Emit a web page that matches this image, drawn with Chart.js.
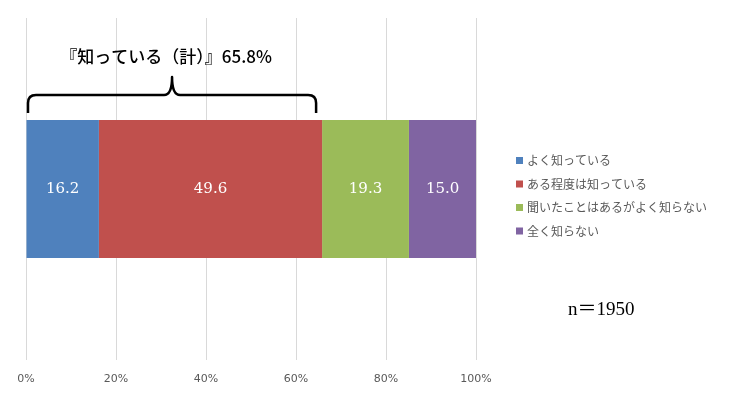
<!DOCTYPE html>
<html>
<head>
<meta charset="utf-8">
<script src="https://cdn.jsdelivr.net/npm/chart.js@4"></script>
<style>
  html, body { margin: 0; padding: 0; background: #fff; }
  #wrap { width: 740px; height: 395px; position: relative; }
</style>
</head>
<body>
<div id="wrap"><canvas id="chart"></canvas></div>
<script>
// data
const categories = [''];
const seriesNames = ['よく知っている', 'ある程度は知っている', '聞いたことはあるがよく知らない', '全く知らない'];
const seriesValues = [16.2, 49.6, 19.3, 15.0];
const seriesColors = ['#4f81bd', '#c0504d', '#9bbb59', '#8064a2'];
const xTicks = [0, 20, 40, 60, 80, 100];
const braceTotal = 65.8;
const braceLabel = '『知っている（計）』65.8%';
const sampleNote = 'n＝1950';

const jpFont = '"Noto Sans CJK JP", "Noto Sans", sans-serif';

// values inside the bars
const barLabels = {
    id: 'barLabels',
    afterDatasetsDraw(chart) {
        const ctx = chart.ctx;
        ctx.save();
        ctx.fillStyle = '#fff';
        ctx.font = '15px "DejaVu Serif", "Liberation Serif", serif';
        ctx.textAlign = 'center';
        ctx.textBaseline = 'middle';
        chart.data.datasets.forEach((ds, i) => {
            chart.getDatasetMeta(i).data.forEach((bar, j) => {
                const cx = (bar.x + bar.base) / 2;
                ctx.fillText(ds.data[j].toFixed(1), cx, bar.y);
            });
        });
        ctx.restore();
    }
};

// curly brace over the "know" share plus its caption
const brace = {
    id: 'brace',
    afterDraw(chart) {
        const x = chart.scales.x;
        const ctx = chart.ctx;
        const l = x.getPixelForValue(0) + 2;
        const r = x.getPixelForValue(braceTotal) - 6;
        const m = (l + r) / 2;
        const yEnd = 113, yMid = 95, yTop = 77, rad = 8;
        ctx.save();
        ctx.strokeStyle = '#000';
        ctx.lineWidth = 2.5;
        ctx.lineJoin = 'round';
        ctx.beginPath();
        ctx.moveTo(l, yEnd);
        ctx.lineTo(l, yMid + rad);
        ctx.quadraticCurveTo(l, yMid, l + rad, yMid);
        ctx.lineTo(m - rad, yMid);
        ctx.quadraticCurveTo(m, yMid, m, yTop);
        ctx.quadraticCurveTo(m, yMid, m + rad, yMid);
        ctx.lineTo(r - rad, yMid);
        ctx.quadraticCurveTo(r, yMid, r, yMid + rad);
        ctx.lineTo(r, yEnd);
        ctx.stroke();

        ctx.fillStyle = '#000';
        ctx.font = '500 17px ' + jpFont;
        ctx.textAlign = 'center';
        ctx.textBaseline = 'middle';
        ctx.fillText(braceLabel, m - 6, 57);

        ctx.font = '19px "Liberation Serif", "Noto Sans CJK JP", serif';
        ctx.textAlign = 'left';
        ctx.fillText(sampleNote, 568, 310);
        ctx.restore();
    }
};

// legend on the right, drawn by hand to sit where the reference has it
const sideLegend = {
    id: 'sideLegend',
    afterDraw(chart) {
        const ctx = chart.ctx;
        ctx.save();
        ctx.font = '12px ' + jpFont;
        ctx.textBaseline = 'middle';
        ctx.textAlign = 'left';
        chart.data.datasets.forEach((ds, i) => {
            const y = 160.5 + i * 23.5;
            ctx.fillStyle = ds.backgroundColor;
            ctx.fillRect(516, y - 3.5, 7, 7);
            ctx.fillStyle = '#595959';
            ctx.fillText(ds.label, 527, y);
        });
        ctx.restore();
    }
};

new Chart(document.getElementById('chart'), {
    type: 'bar',
    data: {
        labels: categories,
        datasets: seriesNames.map((name, i) => ({
            label: name,
            data: [seriesValues[i]],
            backgroundColor: seriesColors[i],
            borderWidth: 0,
            barPercentage: 1,
            categoryPercentage: 0.403
        }))
    },
    options: {
        indexAxis: 'y',
        responsive: true,
        maintainAspectRatio: false,
        animation: false,
        layout: { padding: { left: 26, right: 264, top: 18, bottom: 0 } },
        scales: {
            x: {
                stacked: true,
                min: 0,
                max: 100,
                afterBuildTicks: axis => { axis.ticks = xTicks.map(v => ({ value: v })); },
                afterFit: axis => { axis.height = 35; },
                grid: { color: '#d9d9d9', lineWidth: 1, drawTicks: false },
                border: { display: false },
                ticks: {
                    padding: 14,
                    color: '#595959',
                    font: { size: 11, lineHeight: 1, family: '"DejaVu Sans", sans-serif' },
                    callback: v => v + '%'
                }
            },
            y: {
                stacked: true,
                display: false
            }
        },
        plugins: {
            legend: { display: false },
            tooltip: { enabled: false }
        }
    },
    plugins: [barLabels, brace, sideLegend]
});
</script>
</body>
</html>
